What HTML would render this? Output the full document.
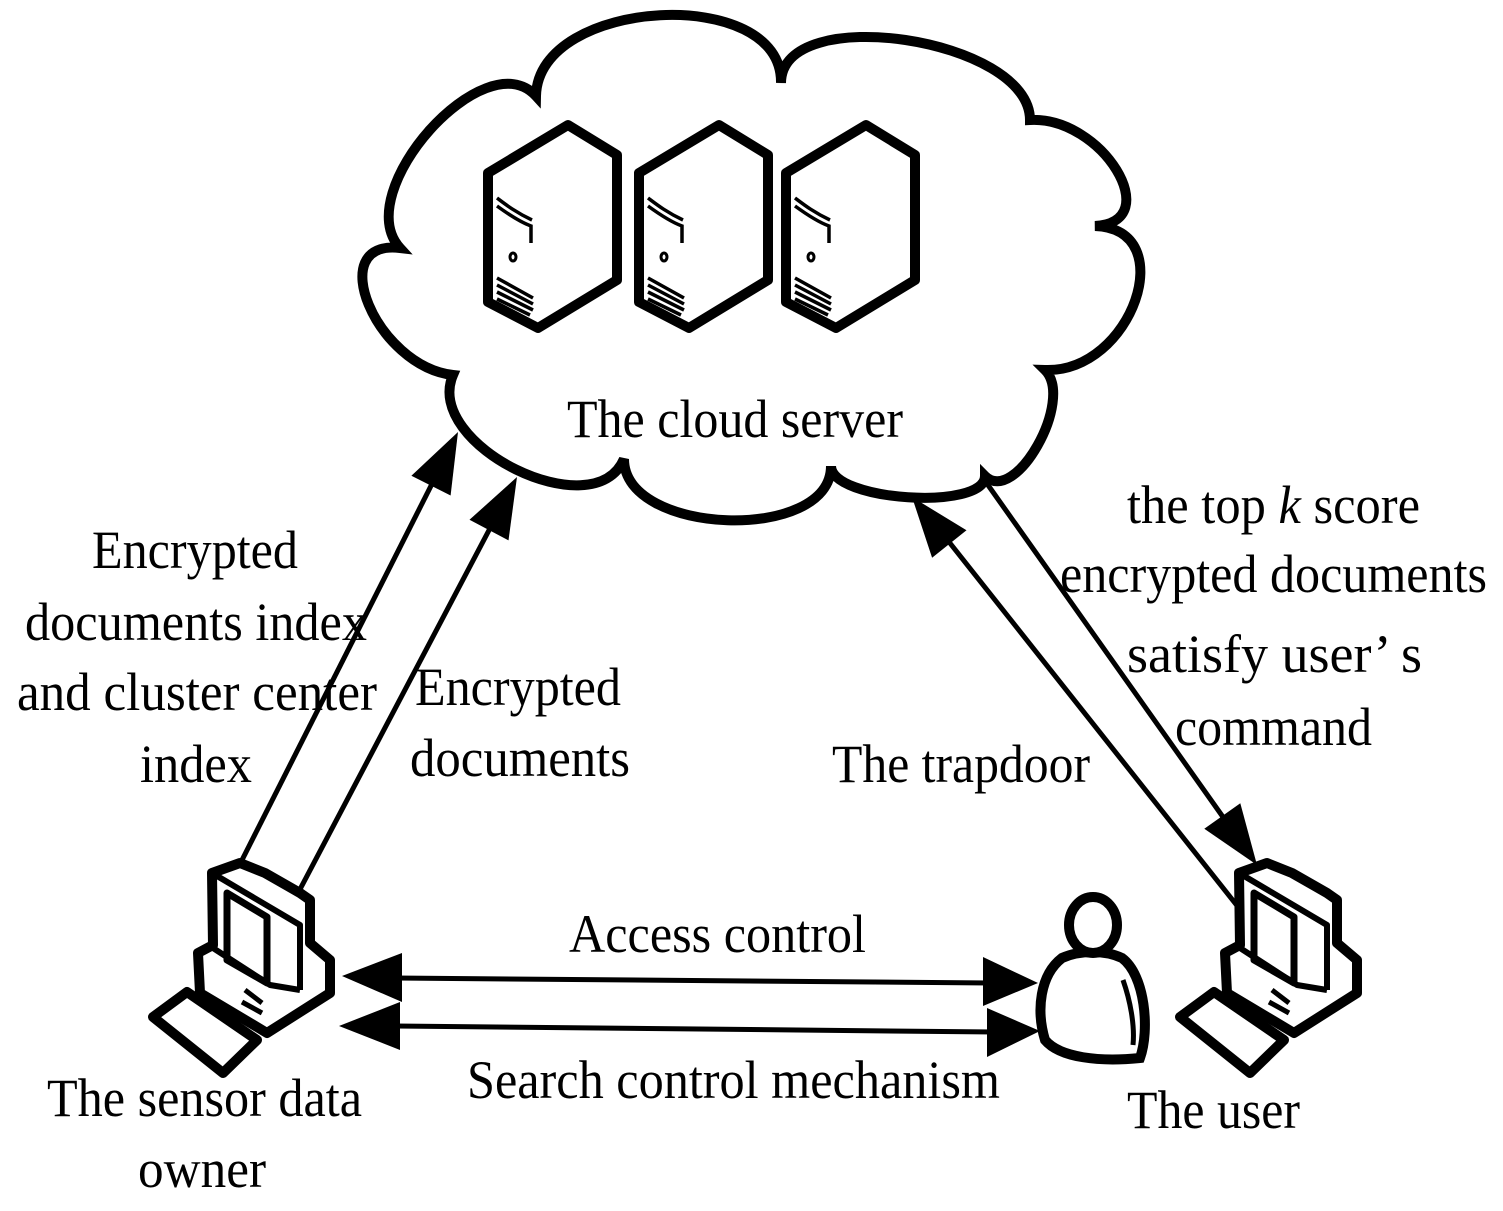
<!DOCTYPE html>
<html><head><meta charset="utf-8"><style>html,body{margin:0;padding:0;background:#fff}svg{display:block}</style></head>
<body>
<svg width="1503" height="1211" viewBox="0 0 1503 1211" xmlns="http://www.w3.org/2000/svg">
<rect width="1503" height="1211" fill="#fff"/>
<path d="M536,96 C538,-3 783,-16 781,83 C781,1 1030,38 1030,120 C1102,116 1167,222 1095,226 C1182,229 1132,373 1045,370 C1075,400 1015,506 985,476 C985,511 831,501 831,466 C831,543 624,536 624,459 C594,529 423,445 453,375 C376,366 323,239 400,248 C349,192 485,40 536,96 Z" fill="#fff" stroke="#000" stroke-width="10" stroke-linejoin="miter"/>
<g id="srv" fill="none" stroke="#000">
<path d="M568,125 L617,155 L617,280 L538,328 L488,302 L488,173 Z" stroke-width="10" fill="#fff" stroke-linejoin="round"/>
<path d="M497,198 C505,204 515,212 532,220" stroke-width="3.5"/>
<path d="M497,206 C508,214 520,222 531,226 L531,243" stroke-width="3.5"/>
<ellipse cx="513" cy="257" rx="3" ry="4" stroke-width="3"/>
<path d="M497,278 L533,298 M497,285 L533,304 M497,292 L533,310 M497,299 L530,315" stroke-width="3.5"/>
</g>
<use href="#srv" transform="translate(151,0)"/>
<use href="#srv" transform="translate(298,0)"/>
<g stroke="#000" stroke-width="5" fill="none">
<line x1="237" y1="870" x2="440" y2="468"/>
<line x1="297" y1="895" x2="497" y2="515"/>
<line x1="1250" y1="922" x2="938" y2="528"/>
<line x1="983" y1="478" x2="1235" y2="834"/>
<line x1="395" y1="978" x2="990" y2="983"/>
<line x1="395" y1="1026" x2="995" y2="1032"/>
</g>
<g fill="#000">
<polygon points="458,432 450.6,495.5 411.4,475.7"/>
<polygon points="517,477 508.5,540.4 469.5,519.8"/>
<polygon points="912,497 966.5,530.3 932.1,557.7"/>
<polygon points="1257,865 1240.3,803.3 1204.3,828.7"/>
<polygon points="342,976 402,953 402,1002"/>
<polygon points="1038,983 983,957 983,1006"/>
<polygon points="339,1026 400,1002 400,1050"/>
<polygon points="1040,1031 987,1008 987,1057"/>
</g>
<g id="pc" fill="#fff" stroke="#000" stroke-linejoin="round">
<path d="M212,873 L240,863 L265,873 L300,893 L310,900 L310,943 L330,960 L330,993 L267,1033 L200,993 L198,953 L213,945 Z" stroke-width="10"/>
<path d="M212,873 L300,925 L300,990" stroke-width="6" fill="none"/>
<path d="M227,893 L267,917 L267,983 L227,960 Z" stroke-width="7"/>
<path d="M213,948 L270,985 L300,990" stroke-width="6" fill="none"/>
<path d="M245,990 L262,1003 M242,1002 L262,1013" stroke-width="5" fill="none"/>
<path d="M153,1017 L187,992 L257,1040 L223,1073 Z" stroke-width="10"/>
</g>
<use href="#pc" transform="translate(1027,0)"/>
<g fill="#fff" stroke="#000" stroke-width="10">
<path d="M1062,958 C1040,975 1036,1010 1045,1040 C1060,1058 1100,1062 1140,1058 C1150,1030 1145,975 1122,958 C1105,950 1080,950 1062,958 Z"/>
<ellipse cx="1093" cy="925" rx="24" ry="28"/>
</g>
<path d="M1123,980 C1130,1000 1135,1025 1133,1045" stroke="#000" stroke-width="5" fill="none"/>
<g font-family="Liberation Serif, serif" font-size="54" fill="#000">
<text x="567" y="437" textLength="336" lengthAdjust="spacingAndGlyphs">The cloud server</text>
<text x="1127" y="523" textLength="293" lengthAdjust="spacingAndGlyphs">the top <tspan font-style="italic">k</tspan> score</text>
<text x="1060" y="592" textLength="427" lengthAdjust="spacingAndGlyphs">encrypted documents</text>
<text x="1127" y="672" textLength="295" lengthAdjust="spacingAndGlyphs">satisfy user’  s</text>
<text x="1175" y="745" textLength="197" lengthAdjust="spacingAndGlyphs">command</text>
<text x="92" y="568" textLength="206" lengthAdjust="spacingAndGlyphs">Encrypted</text>
<text x="25" y="640" textLength="342" lengthAdjust="spacingAndGlyphs">documents index</text>
<text x="17" y="710" textLength="360" lengthAdjust="spacingAndGlyphs">and cluster center</text>
<text x="140" y="782" textLength="112" lengthAdjust="spacingAndGlyphs">index</text>
<text x="415" y="705" textLength="206" lengthAdjust="spacingAndGlyphs">Encrypted</text>
<text x="410" y="776" textLength="220" lengthAdjust="spacingAndGlyphs">documents</text>
<text x="832" y="782" textLength="258" lengthAdjust="spacingAndGlyphs">The trapdoor</text>
<text x="569" y="952" textLength="297" lengthAdjust="spacingAndGlyphs">Access control</text>
<text x="467" y="1098" textLength="533" lengthAdjust="spacingAndGlyphs">Search control mechanism</text>
<text x="47" y="1116" textLength="315" lengthAdjust="spacingAndGlyphs">The sensor data</text>
<text x="138" y="1187" textLength="128" lengthAdjust="spacingAndGlyphs">owner</text>
<text x="1127" y="1128" textLength="173" lengthAdjust="spacingAndGlyphs">The user</text>
</g>
</svg>
</body></html>
